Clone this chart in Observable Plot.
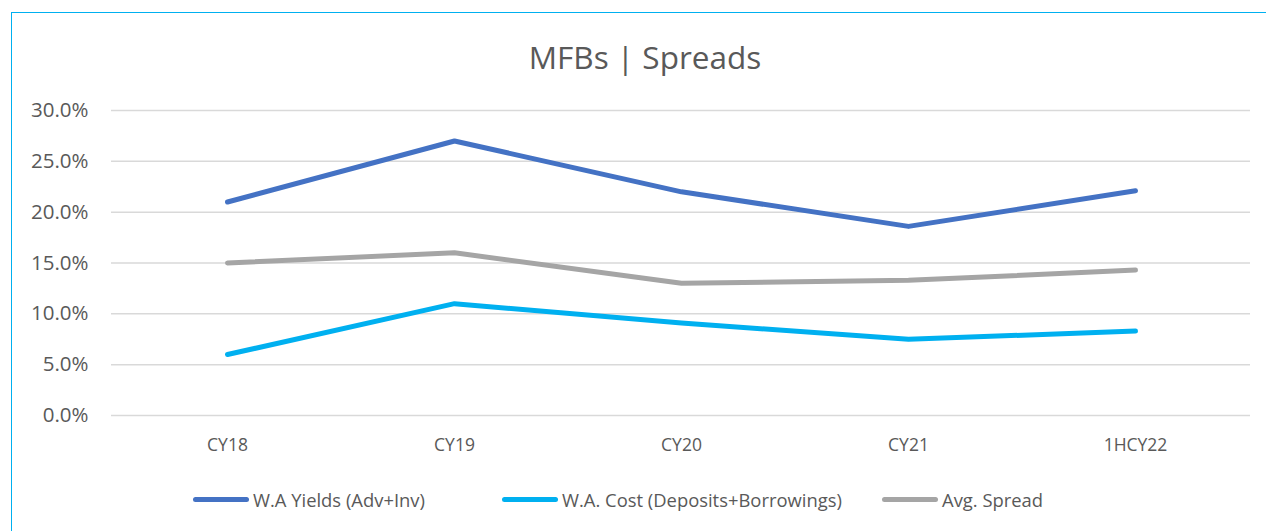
<!DOCTYPE html>
<html>
<head>
<meta charset="utf-8">
<script src="https://cdn.jsdelivr.net/npm/d3@7"></script>
<script src="https://cdn.jsdelivr.net/npm/@observablehq/plot@0.6"></script>
<style>
  html, body { margin: 0; padding: 0; background: #fff; width: 1266px; height: 531px; overflow: hidden; position: relative; font-family: "Open Sans", sans-serif; }
  #frame { position: absolute; left: 11px; top: 12px; width: 1300px; height: 600px; border: 1.5px solid #00b0f0; box-sizing: border-box; pointer-events: none; }
  #title { position: absolute; left: 11px; width: 1268px; top: 0; height: 90px; line-height: 114px; text-align: center; font-size: 31.5px; color: #595959; }
  #chart { position: absolute; left: 0; top: 90px; }
  #legend { position: absolute; left: 0; top: 470px; width: 1266px; height: 58px; font-size: 18.4px; color: #595959; white-space: nowrap; }
  .item { position: absolute; top: 0; height: 58px; display: flex; align-items: center; }
  .sw { display: inline-block; width: 56px; height: 5px; border-radius: 3px; margin-right: 4px; }
</style>
</head>
<body>
<div id="title">MFBs | Spreads</div>
<div id="chart"></div>
<div id="legend"></div>
<div id="frame"></div>
<script>
const categories = ["CY18", "CY19", "CY20", "CY21", "1HCY22"];
const seriesNames = ["W.A Yields (Adv+Inv)", "W.A. Cost (Deposits+Borrowings)", "Avg. Spread"];
const seriesColors = ["#4472c4", "#00b0f0", "#a5a5a5"];
const yields = [21.0, 27.0, 22.0, 18.6, 22.1];
const cost = [6.0, 11.0, 9.1, 7.5, 8.3];
const spread = [15.0, 16.0, 13.0, 13.3, 14.3];
const yTicks = [0, 5, 10, 15, 20, 25, 30];
const legendLeft = [193, 502, 882];

const seriesValues = [yields, cost, spread];
const data = [];
seriesNames.forEach((s, i) => {
  categories.forEach((c, j) => data.push({series: s, category: c, value: seriesValues[i][j]}));
});

const plot = Plot.plot({
  width: 1266,
  height: 380,
  marginLeft: 111,
  marginRight: 16,
  marginTop: 20,
  marginBottom: 55,
  style: { fontFamily: "Open Sans, sans-serif", color: "#595959", background: "transparent" },
  x: { type: "point", domain: categories, padding: 0.5, label: null },
  y: { domain: [0, 30], label: null },
  color: { domain: seriesNames, range: seriesColors },
  marks: [
    Plot.gridY(yTicks, { stroke: "#d9d9d9", strokeOpacity: 1, strokeWidth: 1.5 }),
    Plot.axisY(yTicks, { tickFormat: d => d.toFixed(1) + "%", tickSize: 0, tickPadding: 23, fontSize: 20.5, label: null, fill: "#595959" }),
    Plot.axisX(categories, { tickSize: 0, tickPadding: 23, fontSize: 17.5, label: null, fill: "#595959" }),
    Plot.line(data, { x: "category", y: "value", stroke: "series", z: "series", strokeWidth: 5, strokeLinecap: "round", strokeLinejoin: "round" })
  ]
});
document.getElementById("chart").appendChild(plot);

const legend = document.getElementById("legend");
seriesNames.forEach((s, i) => {
  const item = document.createElement("span");
  item.className = "item";
  item.style.left = legendLeft[i] + "px";
  const sw = document.createElement("span");
  sw.className = "sw";
  sw.style.background = seriesColors[i];
  item.appendChild(sw);
  const t = document.createElement("span");
  t.textContent = s;
  item.appendChild(t);
  legend.appendChild(item);
});
</script>
</body>
</html>
